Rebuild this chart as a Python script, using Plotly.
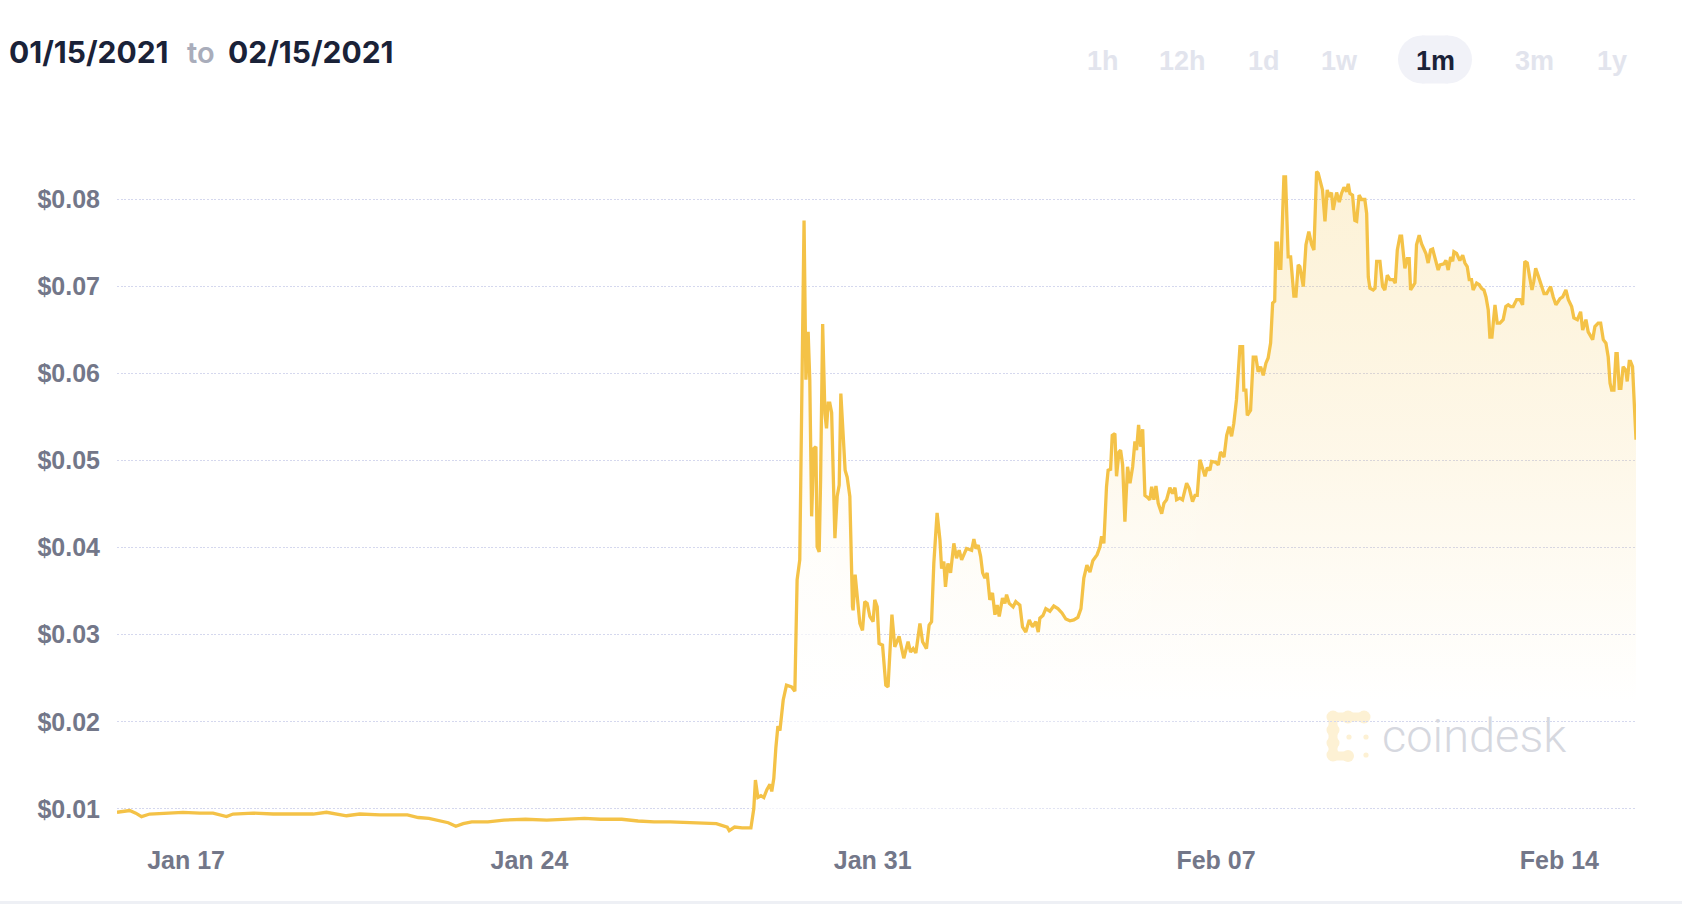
import pandas as pd
import plotly.graph_objects as go

# ---------------- data (hours since 2021-01-15 00:00, price in USD) ----------------
hours_jan15_28 = [14.2, 17.5, 20.4, 23.4, 26.2, 30.2, 38.4, 46.5, 54.7, 61.2, 67.8, 71.0, 80.8, 90.6,
                  100.4, 110.2, 116.7, 126.5, 133.0, 142.8, 156.3, 161.6, 166.8, 172.2, 176.3, 180.0,
                  183.6, 187.8, 195.7, 203.5, 214.1, 224.5, 235.0, 242.9, 250.8, 261.2, 269.2, 277.0,
                  284.9, 292.8, 300.7, 307.5, 312.8, 313.8, 316.4, 320.1, 324.4]
usd_jan15_28 = [0.0096, 0.0097, 0.0098, 0.0095, 0.0091, 0.0094, 0.0095, 0.0096, 0.0095, 0.0095, 0.0091,
                0.0094, 0.0095, 0.0094, 0.0094, 0.0094, 0.0096, 0.0092, 0.0094, 0.0093, 0.0093, 0.0090,
                0.0089, 0.0086, 0.0084, 0.0080, 0.0083, 0.0085, 0.0085, 0.0087, 0.0088, 0.0087, 0.0088,
                0.0089, 0.0088, 0.0088, 0.0086, 0.0085, 0.0085, 0.0084, 0.0083, 0.0083, 0.0079, 0.0075,
                0.0079, 0.0078, 0.0078]

hours_jan28_29 = [325.8, 326.6, 327.8, 329.3, 330.7, 332.2, 333.7, 334.6, 335.6, 336.6, 337.6, 338.6,
                  339.5, 340.2, 341.8, 344.3, 345.9, 347.0, 348.3, 349.2, 350.4, 351.3, 352.4, 353.2,
                  354.1, 355.2, 356.2, 356.8, 357.8, 358.5, 359.5]
usd_jan28_29 = [0.0100, 0.0133, 0.0113, 0.0115, 0.0113, 0.0122, 0.0128, 0.0120, 0.0135, 0.0170, 0.0195,
                0.0190, 0.0210, 0.0225, 0.0242, 0.0240, 0.0235, 0.0363, 0.0386, 0.0547, 0.0776, 0.0593,
                0.0648, 0.0593, 0.0436, 0.0514, 0.0516, 0.0401, 0.0395, 0.0478, 0.0657]

hours_jan29_feb01 = [360.6, 361.4, 362.2, 363.0, 363.9, 364.6, 365.5, 366.6, 367.6, 368.4, 369.5, 370.5,
                     371.5, 372.8, 374.1, 374.4, 375.4, 376.4, 377.7, 379.0, 380.1, 381.3, 382.6, 384.2,
                     385.0, 386.2, 387.1, 388.8, 390.4, 391.5, 393.4, 394.8, 396.9, 399.2, 401.3, 402.5,
                     403.8, 405.1, 407.1, 408.4, 410.3, 411.6, 412.8]
usd_jan29_feb01 = [0.0554, 0.0537, 0.0566, 0.0566, 0.0555, 0.0478, 0.0411, 0.0459, 0.0472, 0.0577, 0.0524,
                   0.0489, 0.0481, 0.0459, 0.0332, 0.0328, 0.0369, 0.0340, 0.0313, 0.0305, 0.0338, 0.0336,
                   0.0321, 0.0315, 0.0340, 0.0332, 0.0290, 0.0288, 0.0242, 0.0240, 0.0323, 0.0286, 0.0298,
                   0.0273, 0.0292, 0.0280, 0.0284, 0.0279, 0.0313, 0.0292, 0.0284, 0.0311, 0.0315]

hours_feb01_05 = [413.9, 415.5, 416.9, 417.7, 418.8, 419.6, 420.8, 422.1, 423.7, 425.0, 426.3, 427.5,
                  429.9, 432.4, 433.5, 434.5, 435.6, 436.8, 437.8, 438.9, 440.0, 441.3, 442.6, 443.8,
                  444.9, 445.9, 447.5, 448.7, 449.5, 450.8, 452.7, 454.0, 456.0, 457.3, 458.9, 460.6,
                  462.2, 463.8, 465.0, 465.8, 467.3, 468.7, 470.7, 472.6, 474.6, 476.6, 478.5, 480.5,
                  482.4, 484.4, 485.9, 487.3, 488.8, 490.3, 491.7, 492.7]
usd_feb01_05 = [0.0382, 0.0440, 0.0409, 0.0376, 0.0384, 0.0355, 0.0382, 0.0371, 0.0405, 0.0388, 0.0397,
                0.0386, 0.0399, 0.0397, 0.0410, 0.0399, 0.0403, 0.0390, 0.0371, 0.0365, 0.0371, 0.0340,
                0.0348, 0.0323, 0.0334, 0.0321, 0.0342, 0.0336, 0.0346, 0.0336, 0.0332, 0.0338, 0.0334,
                0.0309, 0.0303, 0.0317, 0.0309, 0.0315, 0.0303, 0.0319, 0.0322, 0.0330, 0.0327, 0.0333,
                0.0330, 0.0325, 0.0318, 0.0316, 0.0317, 0.0320, 0.0330, 0.0365, 0.0380, 0.0372, 0.0385,
                0.0388]

hours_feb05_09 = [493.8, 495.2, 496.0, 497.1, 498.4, 499.2, 500.4, 501.2, 502.5, 503.3, 504.5, 505.3,
                  506.3, 507.4, 508.7, 509.9, 511.2, 512.3, 513.1, 514.1, 515.1, 516.1, 517.2, 518.8,
                  519.6, 520.5, 521.6, 522.6, 523.7, 525.4, 526.5, 527.8, 529.4, 530.7, 531.9, 532.7,
                  534.3, 535.6, 537.6, 538.9, 540.5, 541.7, 542.8, 544.1, 545.2, 546.6, 547.7, 549.0,
                  549.8, 551.9, 553.1, 554.2, 555.9, 557.2, 558.4, 559.6, 560.7, 562.0, 563.7, 565.0,
                  565.6, 566.6, 567.3, 568.9, 570.2, 571.5, 572.6, 573.8, 575.1, 576.4, 577.5, 578.7,
                  579.7, 580.7, 581.3, 582.1, 582.8]
usd_feb05_09 = [0.0392, 0.0401, 0.0413, 0.0405, 0.0470, 0.0489, 0.0490, 0.0529, 0.0531, 0.0482, 0.0510,
                0.0512, 0.0495, 0.0430, 0.0493, 0.0474, 0.0493, 0.0522, 0.0512, 0.0541, 0.0516, 0.0536,
                0.0460, 0.0457, 0.0455, 0.0470, 0.0455, 0.0471, 0.0451, 0.0439, 0.0451, 0.0455, 0.0469,
                0.0462, 0.0469, 0.0455, 0.0457, 0.0455, 0.0474, 0.0468, 0.0453, 0.0460, 0.0460, 0.0501,
                0.0492, 0.0482, 0.0492, 0.0489, 0.0499, 0.0498, 0.0495, 0.0510, 0.0504, 0.0529, 0.0539,
                0.0528, 0.0543, 0.0570, 0.0631, 0.0631, 0.0581, 0.0581, 0.0552, 0.0558, 0.0619, 0.0619,
                0.0602, 0.0608, 0.0598, 0.0612, 0.0618, 0.0635, 0.0681, 0.0683, 0.0750, 0.0750, 0.0721]

hours_feb09_12 = [583.7, 585.2, 586.0, 587.3, 588.5, 590.1, 591.1, 592.2, 593.0, 594.7, 596.0, 597.4,
                  598.8, 599.9, 601.2, 602.0, 604.1, 605.3, 606.4, 607.4, 608.5, 609.3, 611.0, 612.3,
                  613.4, 614.6, 615.9, 616.7, 617.5, 618.8, 619.9, 620.8, 622.0, 623.2, 624.8, 625.7,
                  626.5, 627.3, 628.9, 629.8, 630.6, 632.2, 633.5, 634.6, 635.8, 637.1, 638.7, 639.7,
                  640.7, 642.0, 642.8, 644.4, 645.6, 646.5, 647.2, 648.2, 649.3, 650.1, 651.4, 652.6,
                  653.7, 654.7, 655.8, 657.0, 658.0, 659.1, 660.7, 661.6, 663.5, 664.5, 665.6, 666.8,
                  667.8, 668.4, 669.7]
usd_feb09_12 = [0.0721, 0.0826, 0.0826, 0.0734, 0.0734, 0.0689, 0.0689, 0.0725, 0.0723, 0.0700, 0.0748,
                0.0763, 0.0748, 0.0742, 0.0832, 0.0830, 0.0811, 0.0775, 0.0811, 0.0803, 0.0808, 0.0788,
                0.0808, 0.0797, 0.0807, 0.0814, 0.0809, 0.0818, 0.0807, 0.0805, 0.0776, 0.0775, 0.0805,
                0.0800, 0.0800, 0.0784, 0.0711, 0.0698, 0.0696, 0.0698, 0.0729, 0.0729, 0.0700, 0.0696,
                0.0713, 0.0708, 0.0708, 0.0704, 0.0742, 0.0758, 0.0758, 0.0721, 0.0732, 0.0732, 0.0696,
                0.0700, 0.0704, 0.0748, 0.0759, 0.0749, 0.0742, 0.0738, 0.0727, 0.0742, 0.0743, 0.0732,
                0.0719, 0.0725, 0.0726, 0.0730, 0.0719, 0.0734, 0.0729, 0.0740, 0.0738]

hours_feb13_15 = [671.3, 672.7, 673.8, 674.9, 675.9, 677.0, 677.8, 679.5, 680.8, 681.9, 683.1, 684.1,
                  685.2, 686.0, 687.0, 688.5, 689.6, 690.9, 692.5, 693.8, 695.0, 696.2, 697.4, 699.1,
                  700.7, 702.0, 703.1, 704.3, 705.6, 706.6, 707.5, 708.4, 709.7, 711.3, 712.5, 713.8,
                  715.7, 717.0, 718.3, 720.3, 721.6, 723.2, 724.4, 726.0, 727.1, 728.8, 730.4, 731.4,
                  733.0, 734.1, 736.3, 737.4, 739.0, 740.2, 741.5, 742.8, 743.9, 744.8, 745.6, 746.7,
                  747.7, 748.3, 749.3, 750.1, 751.2, 752.5, 753.2, 754.2, 754.8, 755.8, 757.5]
usd_feb13_15 = [0.0730, 0.0736, 0.0727, 0.0723, 0.0708, 0.0708, 0.0696, 0.0704, 0.0702, 0.0698, 0.0696,
                0.0688, 0.0673, 0.0642, 0.0642, 0.0679, 0.0658, 0.0658, 0.0662, 0.0677, 0.0679, 0.0677,
                0.0677, 0.0685, 0.0685, 0.0679, 0.0729, 0.0727, 0.0709, 0.0696, 0.0706, 0.0721, 0.0712,
                0.0702, 0.0692, 0.0692, 0.0700, 0.0688, 0.0679, 0.0686, 0.0688, 0.0696, 0.0685, 0.0677,
                0.0664, 0.0662, 0.0671, 0.0650, 0.0662, 0.0648, 0.0639, 0.0654, 0.0658, 0.0658, 0.0639,
                0.0635, 0.0619, 0.0589, 0.0581, 0.0581, 0.0623, 0.0623, 0.0583, 0.0583, 0.0608, 0.0604,
                0.0591, 0.0614, 0.0614, 0.0608, 0.0524]

date_from = "01/15/2021"
date_to = "02/15/2021"
range_buttons = ["1h", "12h", "1d", "1w", "1m", "3m", "1y"]
active_button = "1m"
watermark = "coindesk"

# ---------------- assemble ----------------
segments = [
    (hours_jan15_28, usd_jan15_28), (hours_jan28_29, usd_jan28_29),
    (hours_jan29_feb01, usd_jan29_feb01), (hours_feb01_05, usd_feb01_05),
    (hours_feb05_09, usd_feb05_09), (hours_feb09_12, usd_feb09_12),
    (hours_feb13_15, usd_feb13_15),
]
hours, prices = [], []
for h, p in segments:
    assert len(h) == len(p), (len(h), len(p))
    hours += h
    prices += p

base = pd.Timestamp("2021-01-15 00:00")
times = [base + pd.Timedelta(hours=h) for h in hours]

# ---------------- geometry ----------------
W, H = 1682, 904
L, R, T, B = 117, 46, 125, 65
PW, PH = W - L - R, H - T - B


def px(x):
    return (x - L) / PW


def py(y):
    return (H - B - y) / PH


LINE = "#f4c247"
TICK = "#737789"
NAVY = "#1a2238"
AXFONT = "Liberation Sans, Arial, Helvetica, sans-serif"


def ms(ts):
    return pd.Timestamp(ts).value / 1e6


fig = go.Figure()

# vertical cream gradient under the line
fig.add_trace(go.Scatter(
    x=times, y=prices, mode="lines", line=dict(width=0, color=LINE), fill="tozeroy",
    fillgradient=dict(type="vertical", start=0.022, stop=0.083,
                      colorscale=[[0, "rgba(244,194,71,0)"], [0.213, "rgba(244,194,71,0.055)"],
                                  [0.459, "rgba(244,194,71,0.12)"], [0.705, "rgba(244,194,71,0.17)"],
                                  [1, "rgba(244,194,71,0.22)"]]),
    hoverinfo="skip", showlegend=False))

# white veil fading out to the right (left part of fill is paler)
fig.add_trace(go.Scatter(
    x=times, y=prices, mode="lines", line=dict(width=0, color="white"), fill="tozeroy",
    fillgradient=dict(type="horizontal", start=ms("2021-01-28 12:00"), stop=ms("2021-02-08 00:00"),
                      colorscale=[[0, "rgba(255,255,255,0.75)"], [1, "rgba(255,255,255,0)"]]),
    hoverinfo="skip", showlegend=False))

fig.add_trace(go.Scatter(
    x=times, y=prices, mode="lines", line=dict(color=LINE, width=3.3),
    hoverinfo="skip", showlegend=False))

shapes = []
# active range pill
pill_c, pill_y, pill_hw, pill_r = 1435, 59.5, 37, 24
pill_col = "#f1f2f8"
shapes.append(dict(type="rect", xref="paper", yref="paper",
                   x0=px(pill_c - pill_hw + pill_r), x1=px(pill_c + pill_hw - pill_r),
                   y0=py(pill_y + pill_r), y1=py(pill_y - pill_r),
                   fillcolor=pill_col, line=dict(width=0), layer="below"))
for cx in (pill_c - pill_hw + pill_r, pill_c + pill_hw - pill_r):
    shapes.append(dict(type="circle", xref="paper", yref="paper",
                       x0=px(cx - pill_r), x1=px(cx + pill_r), y0=py(pill_y + pill_r), y1=py(pill_y - pill_r),
                       fillcolor=pill_col, line=dict(width=0), layer="below"))

# coindesk icon (faint)
icon_col = "#fdf1d4"
for (cx, cy, r) in [(1333, 717, 6.5), (1348, 717, 6.5), (1364, 717, 6.5), (1333, 730, 6.5),
                    (1333, 743, 6.5), (1333, 755, 6.5), (1348, 756, 6.0)]:
    shapes.append(dict(type="circle", xref="paper", yref="paper",
                       x0=px(cx - r), x1=px(cx + r), y0=py(cy + r), y1=py(cy - r),
                       fillcolor=icon_col, line=dict(width=0), layer="below"))
for (x0, x1, y0, y1) in [(1333, 1364, 712.5, 721.5), (1328.5, 1337.5, 717, 755), (1333, 1348, 751.5, 760.5)]:
    shapes.append(dict(type="rect", xref="paper", yref="paper", x0=px(x0), x1=px(x1), y0=py(y1), y1=py(y0),
                       fillcolor=icon_col, line=dict(width=0), layer="below"))
for (cx, cy, r) in [(1349, 737, 2.6), (1366, 737, 2.6), (1366, 755, 2.6)]:
    shapes.append(dict(type="circle", xref="paper", yref="paper",
                       x0=px(cx - r), x1=px(cx + r), y0=py(cy + r), y1=py(cy - r),
                       fillcolor=icon_col, line=dict(width=0), layer="below"))

# bottom light band
shapes.append(dict(type="rect", xref="paper", yref="paper", x0=px(0), x1=px(W), y0=py(H), y1=py(H - 3),
                   fillcolor="#eef0f5", line=dict(width=0), layer="below"))

annotations = []
hdr_y = py(52.5)
annotations.append(dict(text=date_from, x=px(7), y=hdr_y, xref="paper", yref="paper", xanchor="left",
                        yanchor="middle", showarrow=False,
                        font=dict(family="Inter, sans-serif", size=30, color=NAVY, weight=700)))
annotations.append(dict(text="to", x=px(185), y=hdr_y, xref="paper", yref="paper", xanchor="left",
                        yanchor="middle", showarrow=False,
                        font=dict(family="Inter, sans-serif", size=29, color="#a9adbb", weight=600)))
annotations.append(dict(text=date_to, x=px(226), y=hdr_y, xref="paper", yref="paper", xanchor="left",
                        yanchor="middle", showarrow=False,
                        font=dict(family="Inter, sans-serif", size=30, color=NAVY, weight=700)))

btn_x = [1103, 1182, 1264, 1339, 1435, 1534, 1612]
for label, bx in zip(range_buttons, btn_x):
    annotations.append(dict(text=label, x=px(bx), y=py(60.5), xref="paper", yref="paper",
                            xanchor="center", yanchor="middle", showarrow=False,
                            font=dict(family=AXFONT, size=27, weight=700,
                                      color=NAVY if label == active_button else "#e2e4ed")))

annotations.append(dict(text=watermark, x=px(1380), y=py(735), xref="paper", yref="paper",
                        xanchor="left", yanchor="middle", showarrow=False,
                        font=dict(family="Roboto, sans-serif", size=47, weight=300, color="#d6d8df")))

fig.update_layout(
    width=W, height=H, margin=dict(l=L, r=R, t=T, b=B, pad=0),
    paper_bgcolor="white", plot_bgcolor="white", showlegend=False,
    hovermode=False,
    xaxis=dict(type="date", range=[times[0], times[-1]], tick0="2021-01-17", dtick=7 * 86400000,
               tickformat="%b %d", showgrid=False, zeroline=False, showline=False, ticks="",
               tickfont=dict(family=AXFONT, size=25, color=TICK, weight=700), ticklabelstandoff=4,
               fixedrange=True),
    yaxis=dict(range=[0.00653, 0.08856], tick0=0, dtick=0.01, tickformat=".2f", tickprefix="$",
               showgrid=True, gridcolor="#d5d8ee", gridwidth=1, griddash="2px,1.6px",
               zeroline=False, showline=False, ticks="", layer="above traces",
               tickfont=dict(family=AXFONT, size=25, color=TICK, weight=700), ticklabelstandoff=16,
               fixedrange=True),
    shapes=shapes, annotations=annotations,
)

fig.write_html("out.html", config={"displayModeBar": False},
               post_script="document.body.style.margin='0';document.body.style.overflow='hidden';")
